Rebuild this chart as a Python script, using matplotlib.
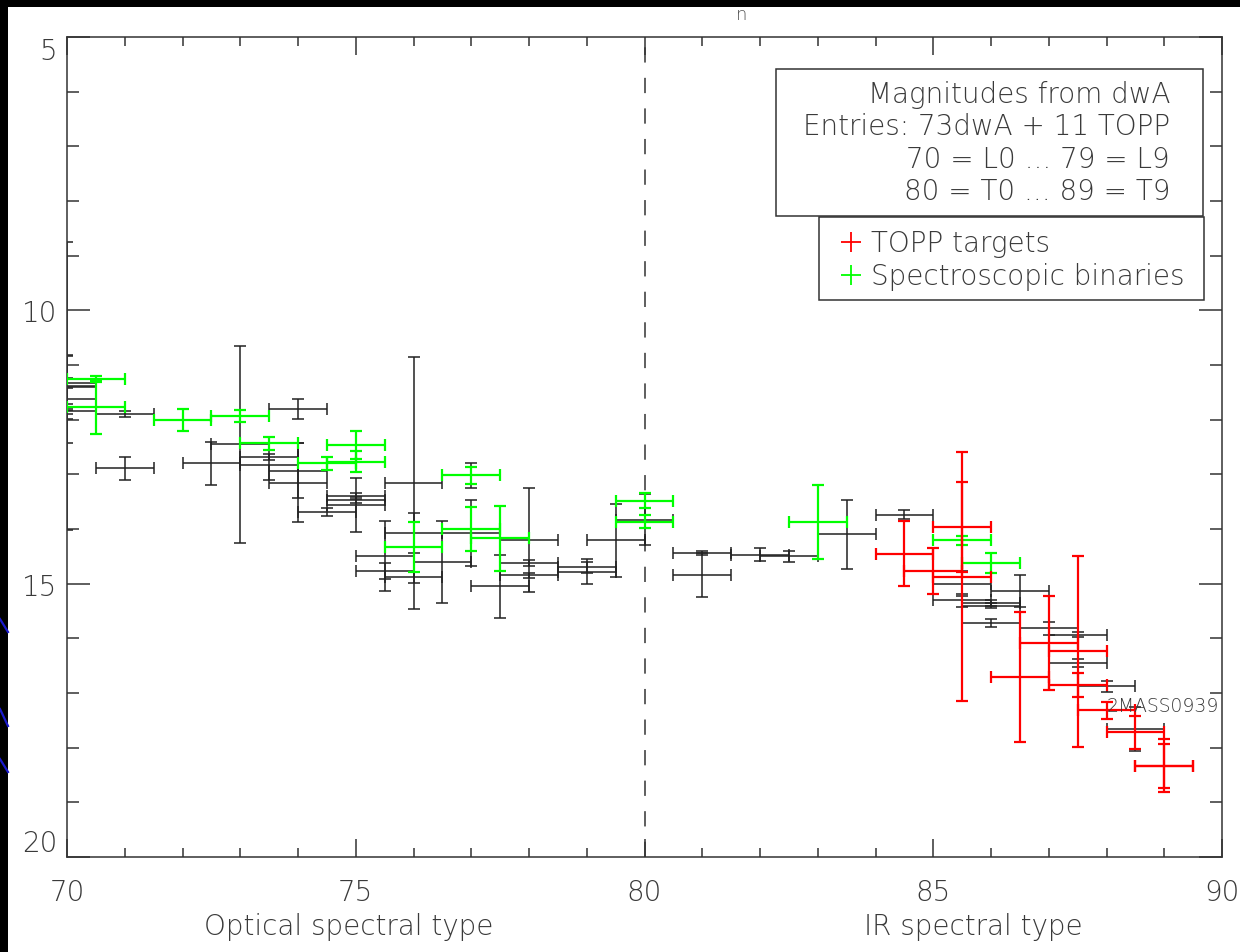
import matplotlib
matplotlib.use('Agg')
import matplotlib.pyplot as plt
from matplotlib.patches import Rectangle
from matplotlib.lines import Line2D
from matplotlib.ticker import MultipleLocator

plt.rcParams['font.family'] = ['DejaVu Sans']
plt.rcParams['font.weight'] = 'light'

# --- data (spectral type, magnitude, error) ---
x_err = 0.5

bk_x = [70, 70, 70, 70, 70, 70, 71, 71, 72.5, 73, 73.5, 73.5, 74, 74, 74, 74.5,
        75, 75, 75, 75.5, 75.5, 76, 76, 76, 76.5, 77, 77, 77.5, 78, 78, 78,
        79, 79, 79.5, 80, 81, 81, 82, 82.5, 83.5, 84.5, 85.5, 85.5, 86, 86, 86,
        86.5, 87, 87.5, 87.5, 88, 88.5]
bk_y = [11.33, 11.40, 11.38, 11.63, 11.77, 11.84, 11.90, 12.89, 12.80, 12.45, 12.68, 12.83,
        11.80, 12.93, 13.15, 13.69, 13.40, 13.47, 13.56, 14.50, 14.77, 13.16, 14.07, 14.88,
        14.60, 13.02, 14.07, 15.05, 14.20, 14.62, 14.85, 14.70, 14.78, 14.21, 13.83,
        14.44, 14.84, 14.47, 14.50, 14.10, 13.74, 15.00, 15.30, 15.35, 15.40, 15.72,
        15.13, 15.82, 15.93, 16.45, 16.88, 17.66]
bk_yerr = [0.09, 0.58, 2.63, 0.80, 0.06, 0.06, 0.05, 0.21, 0.40, 1.80, 0.05, 0.28,
           0.18, 0.50, 0.72, 0.07, 0.05, 0.05, 0.50, 0.64, 0.15, 2.30, 0.37, 0.10,
           0.75, 0.23, 0.60, 0.58, 0.95, 0.05, 0.05, 0.10, 0.23, 0.66, 0.47,
           0.03, 0.40, 0.12, 0.10, 0.63, 0.08, 0.23, 0.12, 0.05, 0.05, 0.07,
           0.29, 0.12, 0.05, 0.08, 0.10, 0.40]

gr_x = [70.5, 70.5, 72, 73, 73.5, 74.5, 75, 75, 76, 77, 77, 77.5, 80, 80, 83, 85.5, 86]
gr_y = [11.26, 11.77, 12.00, 11.93, 12.43, 12.80, 12.46, 12.77, 14.33, 13.02, 14.00,
        14.17, 13.48, 13.87, 13.87, 14.21, 14.62]
gr_yerr = [0.05, 0.50, 0.20, 0.11, 0.12, 0.12, 0.26, 0.19, 0.46, 0.15, 0.40,
           0.59, 0.13, 0.12, 0.68, 0.09, 0.18]

rd_x = [84.5, 85, 85.5, 85.5, 86.5, 87, 87.5, 87.5, 88, 88.5, 89, 89]
rd_y = [14.45, 14.76, 13.96, 14.87, 16.70, 16.08, 16.24, 16.85, 17.32, 17.72, 18.33, 18.33]
rd_yerr = [0.60, 0.42, 0.82, 2.27, 1.19, 0.86, 1.74, 0.22, 0.15, 0.30, 0.48, 0.40]

info_lines = ["Magnitudes from dwA", "Entries: 73dwA + 11 TOPP",
              "70 = L0 ... 79 = L9", "80 = T0 ... 89 = T9"]
legend_labels = ["TOPP targets", "Spectroscopic binaries"]

W, H = 1240, 953
txt = '#3a3a3a'
fig = plt.figure(figsize=(W / 100, H / 100), dpi=100, facecolor='black')
# white slide area
fig.patches.append(Rectangle((8 / W, 0), 1, 1 - 8 / H, transform=fig.transFigure,
                             facecolor='white', edgecolor='none', zorder=-5))
# blue slide decoration in the left margin
for y0, y1 in [(620, 633), (710, 727), (760, 773)]:
    fig.lines.append(Line2D([0, 8 / W], [1 - y0 / H, 1 - y1 / H], color='#1a1acc', lw=1.6,
                            transform=fig.transFigure, zorder=-4))
# title remnant at the top
fig.text(742 / W, 1 - 20 / H, 'n', ha='center', va='baseline', fontsize=13,
         color='#555555', zorder=1)

ax = fig.add_axes([67 / W, 1 - 858 / H, (1222 - 67) / W, (858 - 38) / H])
ax.set_xlim(70, 90)
ax.set_ylim(20, 5)

ink = '#333333'
ax.axvline(80, color=ink, lw=1.1, linestyle=(0, (10, 10)), zorder=1)

ax.errorbar(bk_x, bk_y, xerr=x_err, yerr=bk_yerr, fmt='none', ecolor='#222222',
            elinewidth=1.1, capsize=4.5, capthick=1.1, zorder=2)
ax.errorbar(gr_x, gr_y, xerr=x_err, yerr=gr_yerr, fmt='none', ecolor='#00ff00',
            elinewidth=1.6, capsize=4.5, capthick=1.6, zorder=3)
ax.errorbar(rd_x, rd_y, xerr=x_err, yerr=rd_yerr, fmt='none', ecolor='#ff0000',
            elinewidth=1.6, capsize=4.5, capthick=1.6, zorder=4)

ax.text(88.0, 17.22, '2MASS0939', ha='left', va='center', fontsize=13.5,
        color=txt, zorder=5)

# axes styling (IDL look)
for s in ax.spines.values():
    s.set_color(ink)
    s.set_linewidth(1.1)
ax.xaxis.set_major_locator(MultipleLocator(5))
ax.xaxis.set_minor_locator(MultipleLocator(1))
ax.yaxis.set_major_locator(MultipleLocator(5))
ax.yaxis.set_minor_locator(MultipleLocator(1))
ax.tick_params(which='both', direction='in', top=True, right=True, color=ink, width=1.1,
               labelcolor=txt, labelsize=20)
ax.tick_params(axis='x', which='major', length=13, pad=15)
ax.tick_params(axis='x', which='minor', length=6.5)
ax.tick_params(axis='y', which='major', length=16.5, pad=7)
ax.tick_params(axis='y', which='minor', length=8.5)
ax.set_yticks([5, 10, 15, 20])
ax.set_yticklabels(['5', '10', '15', '20'])
yt = ax.yaxis.get_major_ticks()
yt[0].label1.set_va('top')
yt[-1].label1.set_va('bottom')

ax.text(0.244, -0.094, 'Optical spectral type', transform=ax.transAxes, ha='center',
        va='baseline', fontsize=20, color=txt)
ax.text(0.785, -0.094, 'IR spectral type', transform=ax.transAxes, ha='center',
        va='baseline', fontsize=20, color=txt)

# info box
fig.patches.append(Rectangle((776 / W, 1 - 216.7 / H), (1202.7 - 776) / W, (216.7 - 70) / H,
                             transform=fig.transFigure, facecolor='white',
                             edgecolor=ink, lw=1.1, zorder=6))
for i, line in enumerate(info_lines):
    fig.text(1170 / W, 1 - (102.7 + 32.5 * i) / H, line, ha='right', va='baseline',
             fontsize=20, color=txt, zorder=7)

# legend box
fig.patches.append(Rectangle((819.3 / W, 1 - 300.7 / H), (1204 - 819.3) / W, (300.7 - 218.3) / H,
                             transform=fig.transFigure, facecolor='white',
                             edgecolor=ink, lw=1.1, zorder=6))
for i, (lab, col) in enumerate(zip(legend_labels, ['#ff0000', '#00ff00'])):
    yy = 1 - (243 + 33 * i) / H
    fig.lines.append(Line2D([851 / W], [yy], marker='+', markersize=14, mew=1.3,
                            color=col, transform=fig.transFigure, zorder=7))
    fig.text(871 / W, 1 - (251.7 + 33.3 * i) / H, lab, ha='left', va='baseline',
             fontsize=20, color=txt, zorder=7)

fig.savefig('out.png', dpi=100, facecolor='black')
